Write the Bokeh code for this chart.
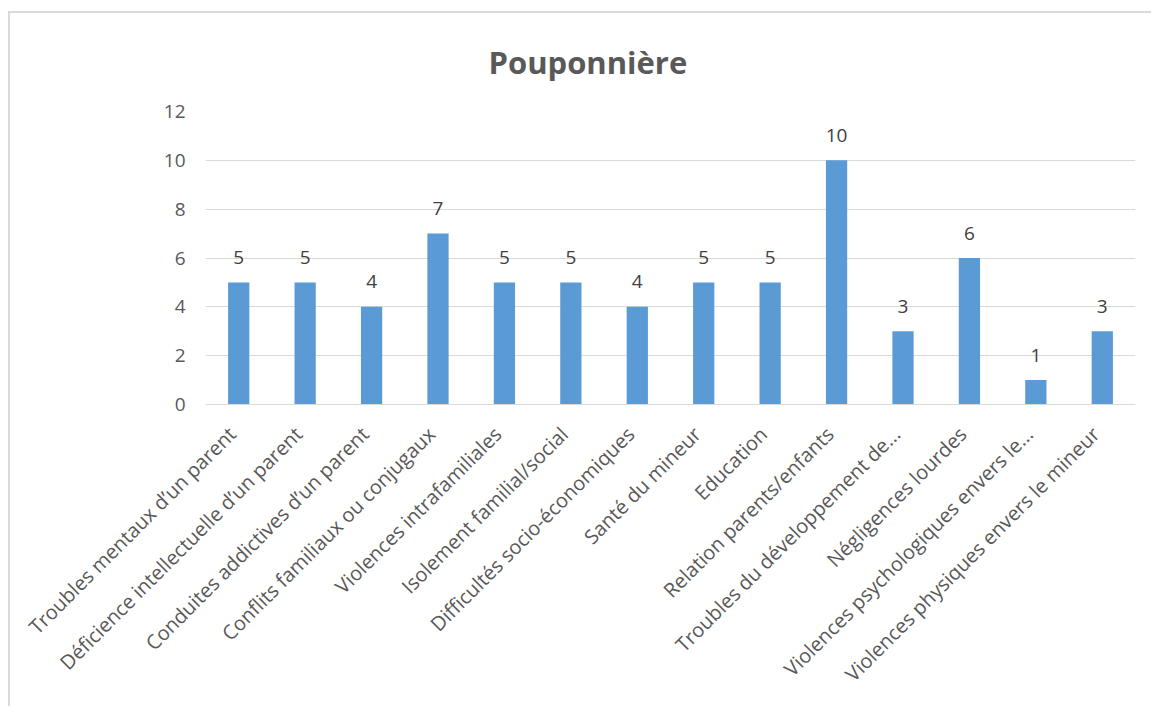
from bokeh.plotting import figure
from bokeh.models import ColumnDataSource, Range1d, LinearAxis, FixedTicker, LinearScale
from bokeh.core.properties import value
from bokeh.embed import file_html
from bokeh.resources import INLINE
import math

title_text = "Pouponnière"
categories = [
    "Troubles mentaux d’un parent",
    "Déficience intellectuelle d’un parent",
    "Conduites addictives d’un parent",
    "Conflits familiaux ou conjugaux",
    "Violences intrafamiliales",
    "Isolement familial/social",
    "Difficultés socio-économiques",
    "Santé du mineur",
    "Education",
    "Relation parents/enfants",
    "Troubles du développement de...",
    "Négligences lourdes",
    "Violences psychologiques envers le...",
    "Violences physiques envers le mineur",
]
counts = [5, 5, 4, 7, 5, 5, 4, 5, 5, 10, 3, 6, 1, 3]
y_ticks = [0, 2, 4, 6, 8, 10, 12]

FONT = "Open Sans"
TXT = "#595959"

n = len(categories)
pos = [i + 0.5 for i in range(n)]  # category slot centres
src = ColumnDataSource(dict(x=pos, cat=categories, val=counts, lbl=[str(v) for v in counts]))

p = figure(
    x_range=Range1d(0, n),
    y_range=Range1d(0, 12),
    width=1143, height=695,
    output_backend="svg", toolbar_location=None,
    min_border_left=195, min_border_right=18, min_border_top=97, min_border_bottom=304,
    title=title_text,
)
p.styles = {"margin-left": "8px", "margin-top": "11px",
            "border-left": "2px solid #d9d9d9", "border-top": "2px solid #d9d9d9"}
p.outline_line_color = None
p.background_fill_color = "white"
p.border_fill_color = "white"

p.title.align = "left"
p.title.vertical_align = "top"
p.title.offset = 283
p.title.standoff = 54
p.title.text_font = FONT
p.title.text_font_size = "31px"
p.title.text_font_style = "bold"
p.title.text_color = TXT

p.vbar(x="x", top="val", width=0.32, source=src, color="#5B9BD5", line_color=None)

p.text(x="x", y="val", text="lbl", source=src, text_align="center", text_baseline="middle",
       y_offset=-25, text_font=value(FONT), text_font_size="19px", text_color="#404040")

p.xgrid.grid_line_color = None
p.ygrid.grid_line_color = "#d9d9d9"
p.ygrid.grid_line_width = 1

p.yaxis.ticker = FixedTicker(ticks=y_ticks)
p.yaxis.axis_line_color = None
p.yaxis.major_tick_line_color = None
p.yaxis.minor_tick_line_color = None
p.yaxis.major_label_text_font = FONT
p.yaxis.major_label_text_font_size = "19px"
p.yaxis.major_label_text_color = TXT
p.yaxis.major_label_standoff = 14

# category labels on a slightly shifted companion axis (label corners line up with bar centres)
p.xaxis.visible = False
shift = 0.1
p.extra_x_ranges = {"lbl": Range1d(start=shift, end=n + shift)}
p.extra_x_scales = {"lbl": LinearScale()}
xax = LinearAxis(x_range_name="lbl", ticker=FixedTicker(ticks=pos),
                 major_label_overrides={t: c for t, c in zip(pos, categories)})
xax.axis_line_color = "#d9d9d9"
xax.axis_line_width = 1
xax.major_tick_line_color = None
xax.minor_tick_line_color = None
xax.major_label_text_font = FONT
xax.major_label_text_font_size = "20px"
xax.major_label_text_color = TXT
xax.major_label_orientation = math.pi / 4
xax.major_label_standoff = 20
p.add_layout(xax, "below")

open("out.html", "w").write(file_html(p, INLINE))
